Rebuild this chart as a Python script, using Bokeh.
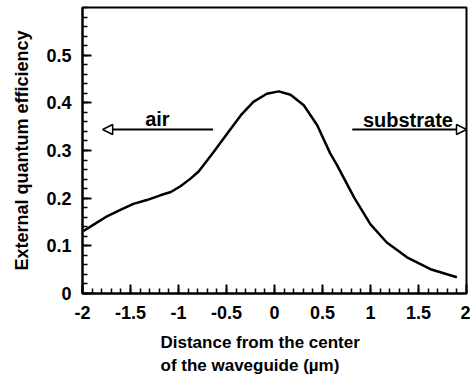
from bokeh.plotting import figure
from bokeh.models import FixedTicker, Label, Arrow, NormalHead, Range1d, Title
from bokeh.embed import file_html
from bokeh.resources import INLINE

distance = [-1.99, -1.88, -1.74, -1.60, -1.47, -1.33, -1.19, -1.08, -0.98, -0.875, -0.79,
            -0.63, -0.49, -0.35, -0.22, -0.08, 0.045, 0.167, 0.305, 0.445, 0.58, 0.65,
            0.83, 1.0, 1.17, 1.38, 1.625, 1.90]
efficiency = [0.131, 0.145, 0.1625, 0.176, 0.188, 0.196, 0.206, 0.213, 0.225, 0.241, 0.256,
              0.298, 0.336, 0.374, 0.402, 0.419, 0.424, 0.417, 0.395, 0.353, 0.294, 0.270,
              0.201, 0.145, 0.107, 0.076, 0.051, 0.034]

x_ticks = [-2, -1.5, -1, -0.5, 0, 0.5, 1, 1.5, 2]
x_tick_labels = ["-2", "-1.5", "-1", "-0.5", "0", "0.5", "1", "1.5", "2"]
y_ticks = [0, 0.1, 0.2, 0.3, 0.4, 0.5]
y_tick_labels = ["0", "0.1", "0.2", "0.3", "0.4", "0.5"]
x_minor = [round(-2 + 0.1 * i, 2) for i in range(41)]
y_minor = [round(0.02 * i, 2) for i in range(31)]

FONT = "Liberation Sans"

p = figure(width=470, height=377, output_backend="svg", toolbar_location=None,
           x_range=Range1d(-2, 2), y_range=Range1d(0, 0.6),
           min_border_left=82, min_border_right=4, min_border_top=7, min_border_bottom=84)
p.grid.visible = False
p.background_fill_color = "white"
p.border_fill_color = "white"
p.outline_line_color = "black"
p.outline_line_width = 2

p.line(distance, efficiency, line_color="black", line_width=2.5, line_join="round")

for ax in (p.xaxis[0], p.yaxis[0]):
    ax.axis_line_width = 2
    ax.major_tick_in = 9
    ax.major_tick_out = 0
    ax.minor_tick_in = 5
    ax.minor_tick_out = 0
    ax.major_tick_line_width = 2
    ax.minor_tick_line_width = 1.5
    ax.major_label_text_font = FONT
    ax.major_label_text_font_style = "bold"
    ax.major_label_text_font_size = "18px"
    ax.major_label_text_color = "black"

p.xaxis[0].ticker = FixedTicker(ticks=x_ticks, minor_ticks=x_minor)
p.xaxis[0].major_label_overrides = {t: l for t, l in zip(x_ticks, x_tick_labels)}
p.xaxis[0].major_label_standoff = 12
p.yaxis[0].ticker = FixedTicker(ticks=y_ticks, minor_ticks=y_minor)
p.yaxis[0].major_label_overrides = {t: l for t, l in zip(y_ticks, y_tick_labels)}
p.yaxis[0].major_label_standoff = 11

p.yaxis[0].axis_label = "External quantum efficiency"
p.yaxis[0].axis_label_text_font = FONT
p.yaxis[0].axis_label_text_font_style = "bold"
p.yaxis[0].axis_label_text_font_size = "18px"
p.yaxis[0].axis_label_text_color = "black"
p.yaxis[0].axis_label_standoff = 11

# spacer between axis and the two-line x title
p.add_layout(Title(text=" ", text_font_size="6px", standoff=0), "below")
for txt in ("Distance from the center", "of the waveguide (µm)"):
    p.add_layout(Title(text=txt, align="left", offset=78, text_font=FONT,
                       text_font_style="bold", text_font_size="17px",
                       text_color="black", standoff=2), "below")

p.add_layout(Label(x=-1.22, y=0.367, text="air", text_font=FONT, text_font_style="bold",
                   text_font_size="20px", text_color="black",
                   text_align="center", text_baseline="alphabetic"))
p.add_layout(Label(x=1.39, y=0.365, text="substrate", text_font=FONT, text_font_style="bold",
                   text_font_size="20px", text_color="black",
                   text_align="center", text_baseline="alphabetic"))

p.add_layout(Arrow(x_start=-0.64, y_start=0.344, x_end=-1.79, y_end=0.344,
                   line_width=2, line_color="black",
                   end=NormalHead(size=10, fill_color="white", line_color="black", line_width=1.5)))
p.add_layout(Arrow(x_start=0.81, y_start=0.344, x_end=2.0, y_end=0.344,
                   line_width=2, line_color="black",
                   end=NormalHead(size=10, fill_color="white", line_color="black", line_width=1.5)))

open("out.html", "w").write(file_html(p, INLINE))
